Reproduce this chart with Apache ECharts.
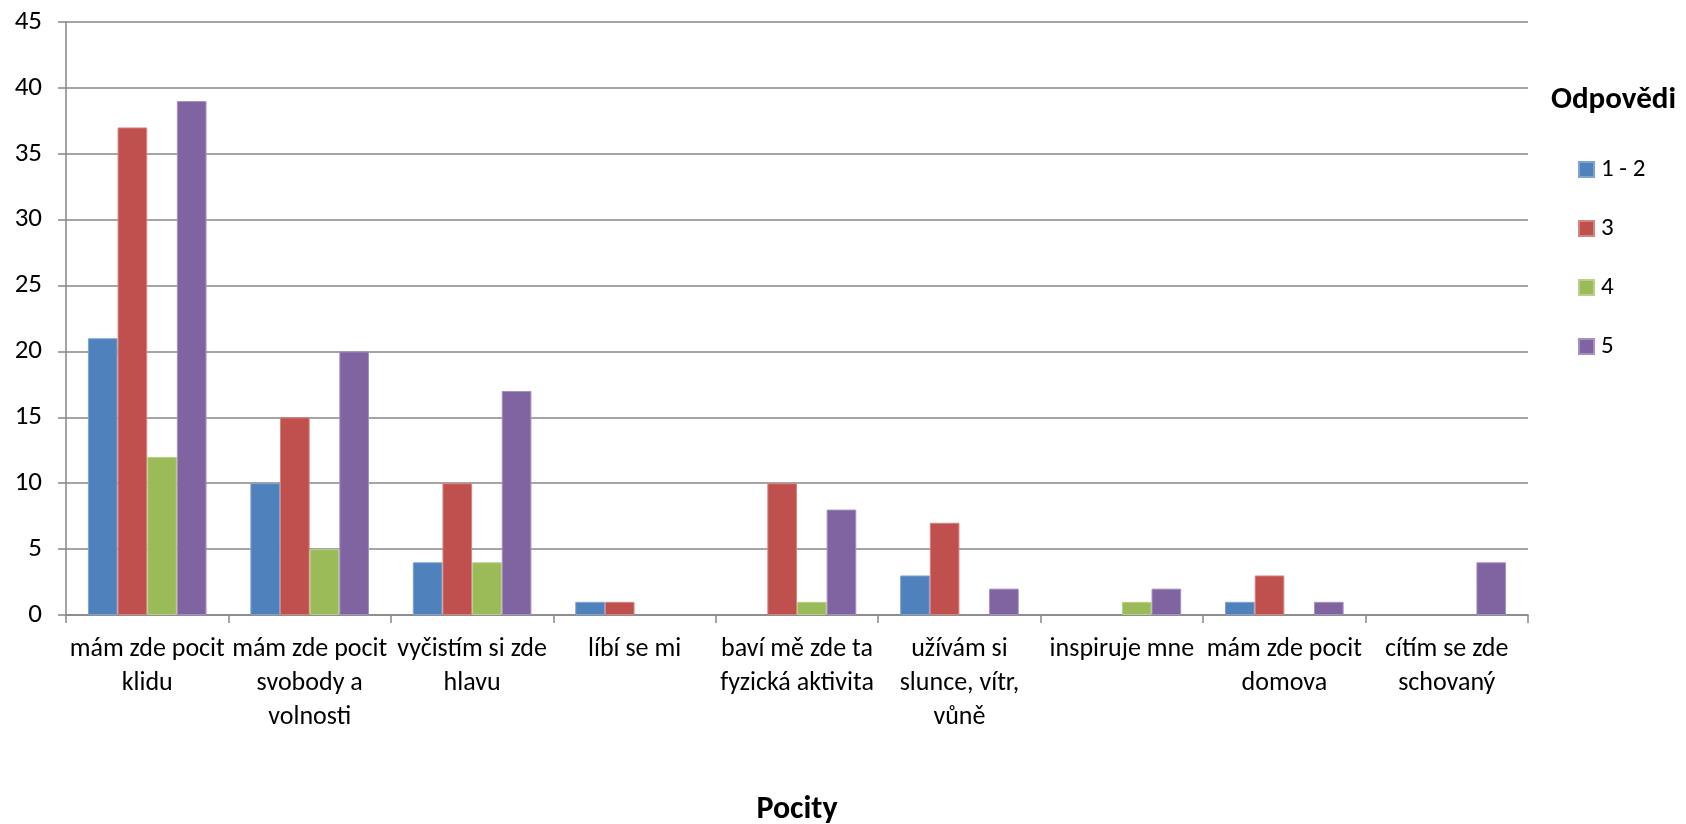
<!DOCTYPE html>
<html>
<head>
<meta charset="utf-8">
<script src="https://cdn.jsdelivr.net/npm/echarts@6/dist/echarts.min.js"></script>
<style>
  html, body { margin: 0; padding: 0; background: #fff; }
  #chart { width: 1686px; height: 824px; }
</style>
</head>
<body>
<div id="chart"></div>
<script>
// Categories (feelings) and counts per answer group
const categories = [
  'mám zde pocit\nklidu',
  'mám zde pocit\nsvobody a\nvolnosti',
  'vyčistím si zde\nhlavu',
  'líbí se mi',
  'baví mě zde ta\nfyzická aktivita',
  'užívám si\nslunce, vítr,\nvůně',
  'inspiruje mne',
  'mám zde pocit\ndomova',
  'cítím se zde\nschovaný'
];
const seriesNames = ['1 - 2', '3', '4', '5'];
const values12 = [21, 10, 4, 1, 0, 3, 0, 1, 0];
const values3  = [37, 15, 10, 1, 10, 7, 0, 3, 0];
const values4  = [12, 5, 4, 0, 1, 0, 1, 0, 0];
const values5  = [39, 20, 17, 0, 8, 2, 2, 1, 4];
const yTicks = { min: 0, max: 45, interval: 5 };
const xTitle = 'Pocity';
const legendTitle = 'Odpovědi';

const colors = ['#4F81BD', '#C0504D', '#9BBB59', '#8064A2'];
const borders = ['#7FA3D1', '#D48482', '#B8D08A', '#A590C0'];
const FONT = 'Carlito, Lato, "Liberation Sans", sans-serif';
const GRID = '#878787';

const allValues = [values12, values3, values4, values5];

const chart = echarts.init(document.getElementById('chart'), null, { renderer: 'canvas' });
chart.setOption({
  backgroundColor: '#ffffff',
  animation: false,
  color: colors,
  title: {
    text: legendTitle,
    left: 1551,
    top: 82,
    padding: 0,
    textStyle: { fontFamily: FONT, fontSize: 31, fontWeight: 'bold', color: '#000', lineHeight: 36 }
  },
  legend: {
    orient: 'vertical',
    left: 1578,
    top: 157,
    padding: 0,
    itemWidth: 15,
    itemHeight: 15,
    itemGap: 34,
    icon: 'rect',
    data: seriesNames,
    textStyle: { fontFamily: FONT, fontSize: 25, color: '#000', lineHeight: 24, padding: [0, 0, 0, 2] }
  },
  grid: { left: 66, right: 158, top: 22, bottom: 209, containLabel: false, outerBoundsMode: 'none' },
  xAxis: {
    type: 'category',
    data: categories,
    boundaryGap: true,
    name: xTitle,
    nameLocation: 'middle',
    nameGap: 179,
    nameTextStyle: { fontFamily: FONT, fontSize: 32, fontWeight: 'bold', color: '#000' },
    axisLine: { lineStyle: { color: GRID, width: 1.5 } },
    axisTick: { show: true, length: 8, interval: 0, lineStyle: { color: GRID, width: 1.5 } },
    axisLabel: {
      interval: 0,
      margin: 17,
      fontFamily: FONT,
      fontSize: 26,
      lineHeight: 34,
      color: '#000',
      align: 'center'
    }
  },
  yAxis: {
    type: 'value',
    min: yTicks.min,
    max: yTicks.max,
    interval: yTicks.interval,
    axisLine: { show: true, lineStyle: { color: GRID, width: 1.5 } },
    axisTick: { show: true, length: 8, lineStyle: { color: GRID, width: 1.5 } },
    axisLabel: { margin: 24, fontFamily: FONT, fontSize: 27, color: '#000' },
    splitLine: { show: true, lineStyle: { color: GRID, width: 1.5 } }
  },
  series: seriesNames.map((name, i) => ({
    name: name,
    type: 'bar',
    data: allValues[i].map(v => ({
      value: v,
      itemStyle: { borderWidth: v > 0 ? 1 : 0 }
    })),
    barGap: '0%',
    barCategoryGap: '27%',
    itemStyle: { color: colors[i], borderColor: borders[i], borderWidth: 1 }
  }))
});
</script>
</body>
</html>
